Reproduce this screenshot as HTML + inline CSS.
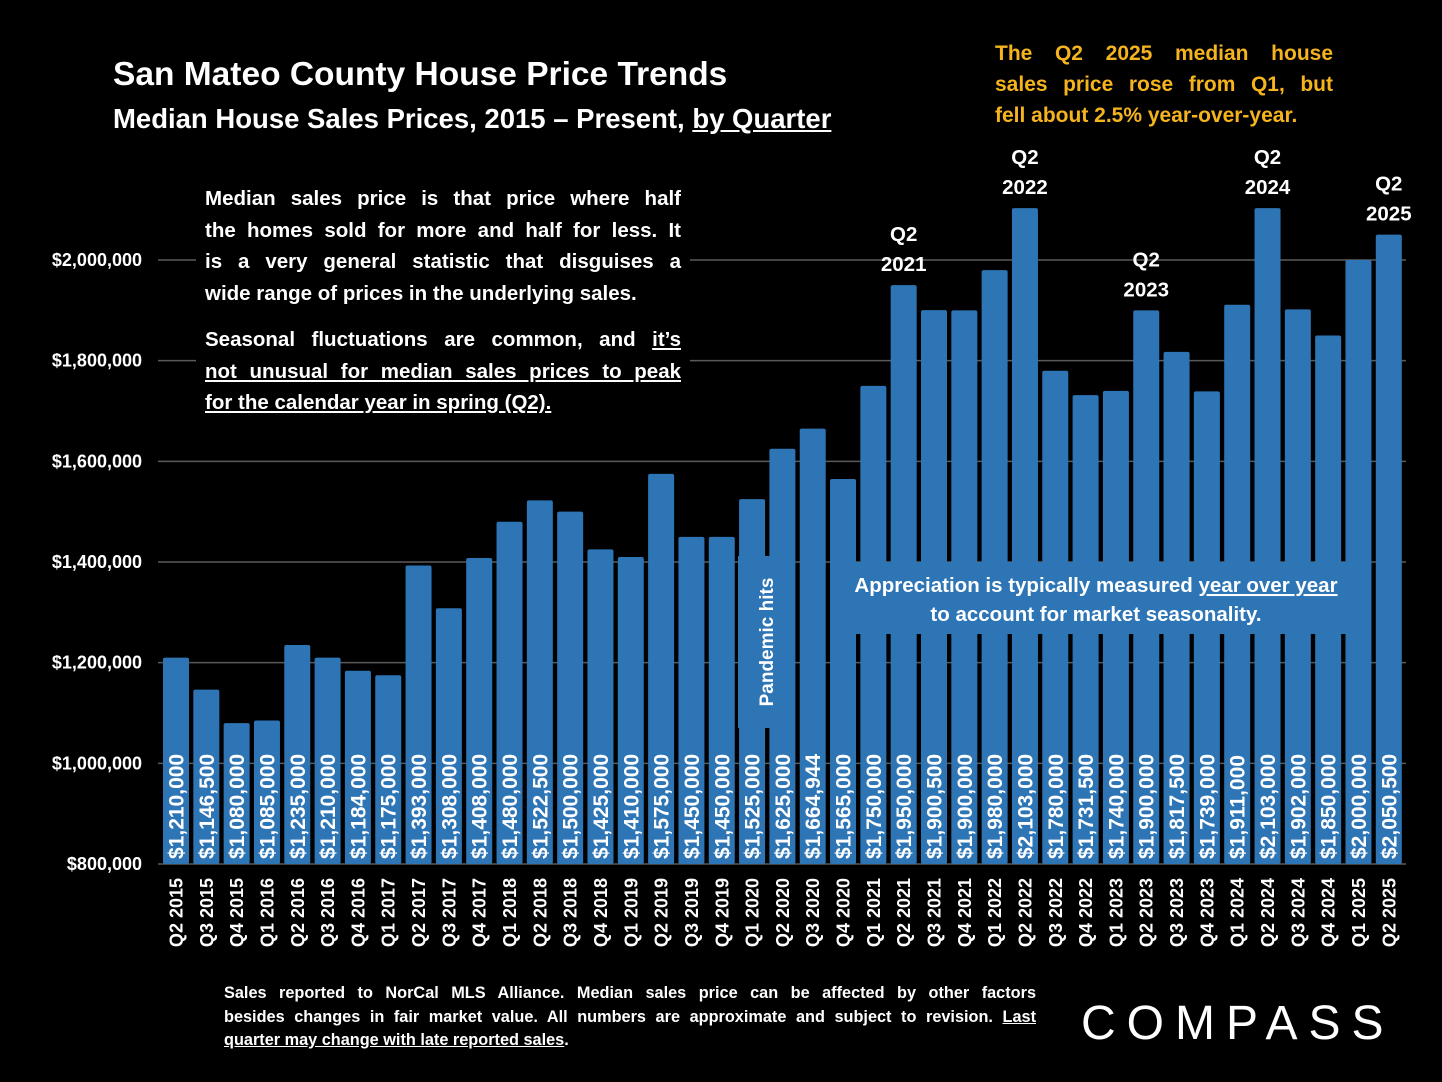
<!DOCTYPE html>
<html><head><meta charset="utf-8"><style>
body{margin:0;background:#000;width:1442px;height:1082px;overflow:hidden;font-family:"Liberation Sans",sans-serif;}
.t{position:absolute;color:#fff;font-weight:bold;}
.j{display:block;text-align:justify;text-align-last:justify;white-space:nowrap;}
.l{display:block;text-align:left;white-space:nowrap;}
</style></head><body>
<svg id="chart" width="1442" height="1082" style="position:absolute;left:0;top:0"></svg>
<div class="t" style="left:113px;top:56px;font-size:33.5px;">San Mateo County House Price Trends</div>
<div class="t" style="left:113px;top:103px;font-size:27.5px;">Median House Sales Prices, 2015 – Present, <u>by Quarter</u></div>
<div class="t" style="left:995px;top:38px;width:338px;font-size:21px;line-height:31px;color:#F5B41E;">
<span class="j">The Q2 2025 median house</span><span class="j">sales price rose from Q1, but</span><span class="l">fell about 2.5% year-over-year.</span></div>
<div class="t" style="left:196px;top:183px;width:476px;padding:0 9px;font-size:20.5px;line-height:31.5px;background:#000;">
<span class="j">Median sales price is that price where half</span><span class="j">the homes sold for more and half for less. It</span><span class="j">is a very general statistic that disguises a</span><span class="l">wide range of prices in the underlying sales.</span></div>
<div class="t" style="left:196px;top:324px;width:476px;padding:0 9px;font-size:20.5px;line-height:31.5px;background:#000;">
<span class="j">Seasonal fluctuations are common, and <u>it’s</u></span><span class="j"><u>not unusual for median sales prices to peak</u></span><span class="l"><u>for the calendar year in spring (Q2).</u></span></div>
<div class="t" style="left:224px;top:982px;width:812px;font-size:16.3px;line-height:23.5px;">
<span class="j">Sales reported to NorCal MLS Alliance. Median sales price can be affected by other factors</span><span class="j">besides changes in fair market value. All numbers are approximate and subject to revision. <u>Last</u></span><span class="l"><u>quarter may change with late reported sales</u>.</span></div>
<div class="t" style="left:1081px;top:996px;font-size:48px;font-weight:normal;letter-spacing:11px;">COMPASS</div>
<script>
const categories=["Q2 2015","Q3 2015","Q4 2015","Q1 2016","Q2 2016","Q3 2016","Q4 2016","Q1 2017","Q2 2017","Q3 2017","Q4 2017","Q1 2018","Q2 2018","Q3 2018","Q4 2018","Q1 2019","Q2 2019","Q3 2019","Q4 2019","Q1 2020","Q2 2020","Q3 2020","Q4 2020","Q1 2021","Q2 2021","Q3 2021","Q4 2021","Q1 2022","Q2 2022","Q3 2022","Q4 2022","Q1 2023","Q2 2023","Q3 2023","Q4 2023","Q1 2024","Q2 2024","Q3 2024","Q4 2024","Q1 2025","Q2 2025"];
const values=[1210000,1146500,1080000,1085000,1235000,1210000,1184000,1175000,1393000,1308000,1408000,1480000,1522500,1500000,1425000,1410000,1575000,1450000,1450000,1525000,1625000,1664944,1565000,1750000,1950000,1900500,1900000,1980000,2103000,1780000,1731500,1740000,1900000,1817500,1739000,1911000,2103000,1902000,1850000,2000000,2050500];
const yTicks=[800000,1000000,1200000,1400000,1600000,1800000,2000000];
const peakLabels=[["Q2 2021","Q2","2021"],["Q2 2022","Q2","2022"],["Q2 2023","Q2","2023"],["Q2 2024","Q2","2024"],["Q2 2025","Q2","2025"]];
const NS="http://www.w3.org/2000/svg";
const svg=document.getElementById('chart');
const y=v=>864-(v-800000)*(604/1200000);
const x=i=>176+i*30.32;
const fmt=v=>"$"+v.toLocaleString("en-US");
function mk(t,a,p){const e=document.createElementNS(NS,t);for(const k in a)e.setAttribute(k,a[k]);(p||svg).appendChild(e);return e;}
yTicks.forEach(v=>{
  const l=mk('line',{x1:158,x2:1406,y1:y(v),y2:y(v),stroke:'#5a5a5a','stroke-width':1.5});
  
  
  const t=mk('text',{x:142,y:y(v)+6,'text-anchor':'end',fill:'#fff','font-size':18,'font-weight':'bold','font-family':'Liberation Sans'});
  t.textContent=fmt(v);
  
  
});
values.forEach((v,i)=>{
  const r=mk('rect',{x:x(i)-13,y:y(v),width:26,height:864-y(v),rx:2,fill:'#2E75B6'});
  
  
});
const b1=mk('rect',{x:738,y:556,width:52,height:172,fill:'#2E75B6'});


const t1=mk('text',{x:0,y:0,transform:'translate(773,642) rotate(-90)','text-anchor':'middle',fill:'#fff','font-size':19,'font-weight':'bold','font-family':'Liberation Sans'});
t1.textContent='Pandemic hits';


const b2=mk('rect',{x:840,y:562,width:512,height:72,fill:'#2E75B6'});


const t2=mk('text',{x:1096,y:592,'text-anchor':'middle',fill:'#fff','font-size':20.5,'font-weight':'bold','font-family':'Liberation Sans'});
t2.innerHTML='Appreciation is typically measured <tspan text-decoration="underline">year over year</tspan>';


const t3=mk('text',{x:1096,y:621,'text-anchor':'middle',fill:'#fff','font-size':20.5,'font-weight':'bold','font-family':'Liberation Sans'});
t3.textContent='to account for market seasonality.';


values.forEach((v,i)=>{
  const t=mk('text',{x:0,y:0,transform:`translate(${x(i)+7.5},859) rotate(-90)`,fill:'#fff','font-size':21,'font-weight':'bold','font-family':'Liberation Sans'});
  t.textContent=fmt(v);
  
  
  const c=mk('text',{x:0,y:0,transform:`translate(${x(i)+6.5},878) rotate(-90)`,'text-anchor':'end',fill:'#fff','font-size':18,'font-weight':'bold','font-family':'Liberation Sans'});
  c.textContent=categories[i];
  
  
});
peakLabels.forEach(p=>{
  const i=categories.indexOf(p[0]);
  const top=y(values[i]);
  [p[1],p[2]].forEach((s,k)=>{
    const t=mk('text',{x:x(i),y:top-44+k*30,'text-anchor':'middle',fill:'#fff','font-size':20.5,'font-weight':'bold','font-family':'Liberation Sans'});
    t.textContent=s;
    
    
  });
});
</script>
</body></html>
